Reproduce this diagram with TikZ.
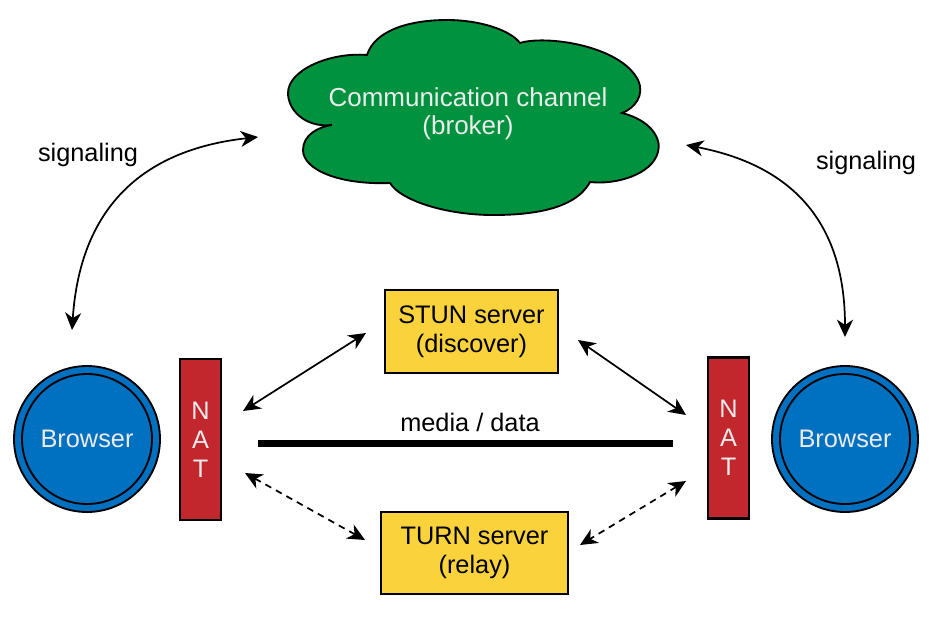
\documentclass[tikz,border=0pt]{standalone}
\usepackage{fontspec}
\setmainfont{Liberation Sans}
\usetikzlibrary{arrows.meta}
\definecolor{cloudgreen}{RGB}{0,146,63}
\definecolor{browserblue}{RGB}{0,112,192}
\definecolor{natred}{RGB}{193,39,45}
\definecolor{serveryellow}{RGB}{250,210,60}
\definecolor{lighttext}{RGB}{235,235,235}
\begin{document}
\begin{tikzpicture}[x=0.75pt,y=-0.75pt,
  font=\fontsize{19}{21.75}\selectfont,
  tip/.tip={Stealth[length=13pt,width=12pt,inset=4pt]},
  conn/.style={line width=1.3pt,tip-tip},
  dconn/.style={conn,dash pattern=on 5pt off 4pt},
  browser/.style={circle,draw,line width=1.4pt,fill=browserblue,minimum size=109.5pt,inner sep=0pt,text=lighttext},
  natbox/.style={rectangle,draw,line width=1.8pt,fill=natred,minimum width=30.75pt,minimum height=120.75pt,inner sep=0pt,text=lighttext,align=center},
  server/.style={rectangle,draw,line width=1.8pt,fill=serveryellow,inner sep=0pt,align=center},
  label/.style={inner sep=0pt}]
\useasboundingbox (0,0) rectangle (938,621);

% cloud
\draw[line width=1.4pt,fill=cloudgreen]
  (332,125) .. controls (305,128) and (288,110) .. (288,93)
  .. controls (288,70) and (330,52) .. (367,55)
  .. controls (375,30) and (410,20) .. (447,20)
  .. controls (480,20) and (510,30) .. (520,43)
  .. controls (545,35) and (620,45) .. (638,80)
  .. controls (645,95) and (635,108) .. (622,113)
  .. controls (650,120) and (662,138) .. (658,152)
  .. controls (652,175) and (615,185) .. (590,182)
  .. controls (575,210) and (530,215) .. (493,215)
  .. controls (445,215) and (400,200) .. (390,183)
  .. controls (340,185) and (303,170) .. (303,150)
  .. controls (303,135) and (318,127) .. (332,125) -- cycle;
\node[label,text=lighttext,align=center,font=\fontsize{19.5}{21}\selectfont] (cloud) at (468,114) {Communication channel\\(broker)};

% browsers
\node[browser] (b1) at (87,439) {Browser};
\draw[line width=1.4pt] (b1.center) circle[radius=48.75pt];
\node[browser] (b2) at (845,439) {Browser};
\draw[line width=1.4pt] (b2.center) circle[radius=48.75pt];

% NATs
\node[natbox] (nat1) at (200.5,439.5) {N\\A\\T};
\node[natbox] (nat2) at (728.5,438) {N\\A\\T};

% servers
\node[server,minimum width=129.75pt,minimum height=62.25pt] (stun) at (471.5,331.5) {STUN server\\(discover)};
\node[server,minimum width=140.25pt,minimum height=61.5pt] (turn) at (474.5,553) {TURN server\\(relay)};

% labels
\node[label] (sigl) at (88,155) {signaling};
\node[label] (sigr) at (866,163) {signaling};
\node[label] (media) at (470,422) {media / data};

% coordinates
\coordinate (sL1) at (258,137);
\coordinate (sL2) at (72,330);
\coordinate (sR1) at (686,145);
\coordinate (sR2) at (845,337);
\coordinate (stL1) at (243,411);
\coordinate (stL2) at (366,333);
\coordinate (stR1) at (578,340);
\coordinate (stR2) at (686,415);
\coordinate (tuL1) at (245,473);
\coordinate (tuL2) at (365,540);
\coordinate (tuR1) at (686,481);
\coordinate (tuR2) at (580,545);
\coordinate (mL) at (258,443);
\coordinate (mR) at (673,443);

% connectors
\draw[conn] (sL2) .. controls (80,210) and (140,150) .. (sL1);
\draw[conn] (sR1) .. controls (790,165) and (845,220) .. (sR2);
\draw[conn] (stL1) -- (stL2);
\draw[conn] (stR1) -- (stR2);
\draw[dconn] (tuL1) -- (tuL2);
\draw[dconn] (tuR1) -- (tuR2);
\draw[line width=5.25pt] (mL) -- (mR);
\end{tikzpicture}
\end{document}
